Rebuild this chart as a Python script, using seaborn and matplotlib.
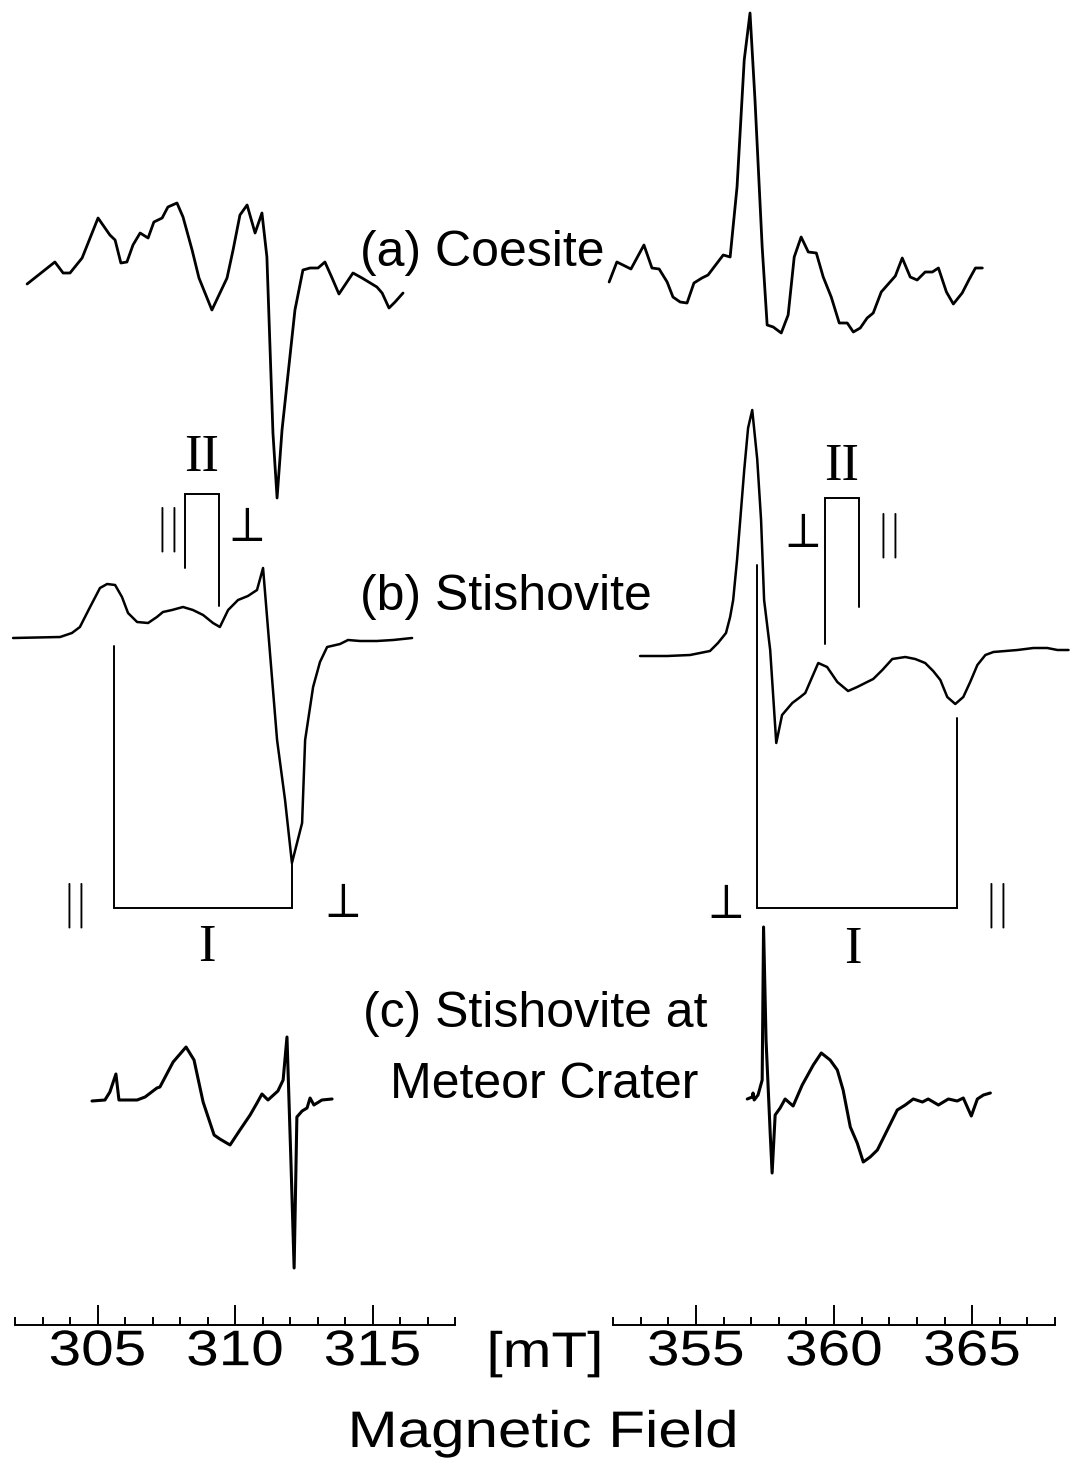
import numpy as np
import pandas as pd
import matplotlib
matplotlib.use("Agg")
import matplotlib.pyplot as plt
import seaborn as sns
from matplotlib.patheffects import AbstractPathEffect
from matplotlib.transforms import Affine2D

sns.set_theme(style="ticks")
plt.rcParams["font.family"] = ["Liberation Sans", "DejaVu Sans"]
plt.rcParams["text.color"] = "black"
plt.rcParams["xtick.color"] = "black"
plt.rcParams["xtick.labelcolor"] = "black"

# ---------------- data (field in mT, signal in arbitrary units) ----------------
coesite_left_field = [302.44, 303.45, 303.75, 304.0, 304.44, 305.02, 305.45, 305.64, 305.85, 306.07,
                      306.29, 306.55, 306.84, 307.05, 307.35, 307.56, 307.89, 308.11, 308.44, 308.69,
                      309.16, 309.71, 309.93, 310.18, 310.44, 310.73, 310.98, 311.16, 311.38, 311.53,
                      311.71, 312.18, 312.47, 312.73, 313.02, 313.27, 313.53, 313.78, 314.29, 314.62,
                      315.16, 315.35, 315.6, 315.82, 316.11]
coesite_left_signal = [-14, 8, -3, -3, 12, 52, 35, 30, 7, 8,
                       25, 37, 32, 48, 52, 63, 67, 53, 20, -8,
                       -40, -8, 20, 55, 65, 37, 57, 13, -163, -228,
                       -160, -40, 0, 2, 2, 8, -8, -24, -3, -8,
                       -17, -23, -38, -32, -23]

coesite_right_field = [351.86, 352.14, 352.36, 352.65, 353.12, 353.41, 353.67, 353.96, 354.17, 354.43,
                       354.68, 354.93, 355.22, 355.44, 355.77, 355.99, 356.24, 356.49, 356.75, 356.96,
                       357.14, 357.4, 357.58, 357.8, 358.09, 358.34, 358.56, 358.81, 359.07, 359.36,
                       359.61, 359.9, 360.19, 360.48, 360.7, 360.95, 361.2, 361.42, 361.71, 362.22,
                       362.47, 362.76, 363.01, 363.3, 363.56, 363.78, 364.07, 364.32, 364.64, 364.9,
                       365.12, 365.37]
coesite_right_signal = [-12, 8, 5, 1, 25, 2, 1, -12, -27, -32,
                        -33, -13, -8, -5, 7, 15, 13, 83, 210, 257,
                        170, 23, -55, -57, -63, -45, 13, 33, 18, 17,
                        -7, -27, -53, -53, -62, -58, -48, -43, -22, -6,
                        12, -7, -10, -2, -2, 2, -22, -34, -23, -9,
                        2, 2]

stish_left_field = [301.93, 303.64, 304.07, 304.36, 304.73, 305.09, 305.35, 305.64, 305.89, 306.11,
                    306.44, 306.84, 307.16, 307.38, 307.71, 308.11, 308.47, 308.84, 309.2, 309.45,
                    309.75, 310.11, 310.47, 310.8, 311.02, 311.53, 311.82, 312.07, 312.44, 312.55,
                    312.84, 313.09, 313.35, 313.82, 314.11, 314.55, 315.16, 315.75, 316.44]
stish_left_signal = [0, 1, 5, 11, 31, 50, 54, 53, 41, 25,
                     16, 15, 21, 26, 28, 31, 28, 23, 15, 11,
                     28, 38, 42, 48, 70, -102, -162, -225, -185, -102,
                     -49, -24, -9, -6, -2, -3, -3, -2, 0]

stish_right_field = [352.98, 353.96, 354.79, 355.15, 355.51, 355.80, 356.09, 356.24, 356.35, 356.49,
                     356.60, 356.75, 356.89, 357.04, 357.22, 357.36, 357.47, 357.69, 357.91, 358.12,
                     358.49, 358.78, 358.96, 359.21, 359.43, 359.75, 360.12, 360.51, 360.84, 361.20,
                     361.42, 361.75, 362.11, 362.58, 362.94, 363.30, 363.59, 363.85, 364.10, 364.39,
                     364.68, 364.93, 365.19, 365.48, 365.77, 366.64, 367.22, 367.72, 368.09, 368.49]
stish_right_signal = [0, 0, 1, 3, 5, 13, 23, 39, 56, 96,
                      134, 186, 228, 246, 197, 136, 56, 6, -87, -59,
                      -47, -41, -37, -21, -7, -11, -26, -35, -31, -26,
                      -23, -14, -3, -1, -3, -7, -15, -24, -41, -48,
                      -41, -26, -9, 1, 4, 6, 8, 8, 6, 6]

meteor_left_field = [304.8, 305.27, 305.45, 305.67, 305.78, 306.44, 306.73, 307.16, 307.27, 307.75,
                     308.22, 308.51, 308.84, 309.24, 309.45, 309.82, 310.18, 310.55, 310.8, 310.98,
                     311.2, 311.56, 311.75, 311.89, 312.04, 312.15, 312.25, 312.44, 312.62, 312.73,
                     312.87, 313.16, 313.53]
meteor_left_signal = [-1, 0, 8, 26, 0, 0, 3, 12, 13, 38,
                      53, 40, -2, -35, -39, -45, -30, -15, -3, 6,
                      0, 9, 20, 63, -67, -168, -17, -11, -8, 2,
                      -5, 0, 1]

meteor_right_field = [356.86, 357.04, 357.07, 357.11, 357.25, 357.40, 357.45, 357.54, 357.69, 357.76,
                      357.87, 358.05, 358.23, 358.52, 358.85, 359.25, 359.54, 359.86, 360.12, 360.33,
                      360.59, 360.84, 361.06, 361.31, 361.57, 361.93, 362.29, 362.58, 362.87, 363.20,
                      363.41, 363.78, 364.14, 364.46, 364.68, 364.97, 365.19, 365.41, 365.66]
meteor_right_signal = [1, 3, 7, 0, 5, 20, 173, 60, -33, -73,
                       -15, -8, 1, -6, 15, 35, 47, 40, 30, 10,
                       -27, -43, -62, -57, -50, -30, -10, -5, 1, -2,
                       1, -5, 1, -1, 2, -16, 1, 5, 7]

# g-component field positions (mT) of the stick diagrams
center_I_low = [305.6, 312.07]     # parallel, perpendicular
center_II_low = [308.18, 309.42]   # parallel, perpendicular
center_I_high = [357.22, 364.46]   # perpendicular, parallel
center_II_high = [359.68, 360.91]  # perpendicular, parallel

left_range = (302, 318)
right_range = (352, 368)
left_major = [305, 310, 315]
right_major = [355, 360, 365]

# ---------------- layout ----------------
W, H = 1081, 1464
SPINE = 1325
fig = plt.figure(figsize=(W / 100, H / 100), dpi=100)
fig.patch.set_facecolor("white")
axL = fig.add_axes([15 / W, (H - SPINE) / H, 440 / W, SPINE / H])
axR = fig.add_axes([613 / W, (H - SPINE) / H, 442 / W, SPINE / H])


def Y(py):
    return SPINE - py


class HStretch(AbstractPathEffect):
    def __init__(self, sx):
        super().__init__()
        self.sx = sx

    def draw_path(self, renderer, gc, tpath, affine, rgbFace=None):
        ext = tpath.get_extents()
        cx = 0.5 * (ext.x0 + ext.x1)
        t = Affine2D().translate(-cx, 0).scale(self.sx, 1.0).translate(cx, 0)
        renderer.draw_path(gc, tpath, t + affine, rgbFace)


def trace(ax, field, signal, base_py, lw=2.0):
    df = pd.DataFrame({"field": field, "y": np.asarray(signal, float) + Y(base_py)})
    sns.lineplot(data=df, x="field", y="y", ax=ax, color="black", linewidth=lw,
                 sort=False, estimator=None, clip_on=False)


def bracket(ax, xs, y_bar, y_ends, lw=1.4):
    ax.plot([xs[0], xs[0], xs[1], xs[1]],
            [Y(y_ends[0]), Y(y_bar), Y(y_bar), Y(y_ends[1])],
            color="black", lw=lw, clip_on=False, solid_joinstyle="miter")


def ftext(px, py, s, **kw):
    kw.setdefault("color", "black")
    return fig.text(px / W, 1 - py / H, s, **kw)


trace(axL, coesite_left_field, coesite_left_signal, 270)
trace(axR, coesite_right_field, coesite_right_signal, 270)
trace(axL, stish_left_field, stish_left_signal, 638, lw=1.8)
trace(axR, stish_right_field, stish_right_signal, 656, lw=1.8)
trace(axL, meteor_left_field, meteor_left_signal, 1100, lw=2.2)
trace(axR, meteor_right_field, meteor_right_signal, 1100, lw=2.2)

# stick diagrams
bracket(axL, center_I_low, 908, (646, 863))
bracket(axL, center_II_low, 494, (568, 606))
bracket(axR, center_I_high, 908, (565, 718))
bracket(axR, center_II_high, 498, (644, 607))

for ax, rng, majors in [(axL, left_range, left_major), (axR, right_range, right_major)]:
    ax.set_xlim(*rng)
    ax.set_ylim(0, SPINE)
    ax.set_xticks(majors)
    ax.set_xticks(np.arange(rng[0], rng[1] + 1), minor=True)
    ax.set_xticklabels([str(m) for m in majors])
    ax.set_yticks([])
    ax.set_xlabel("")
    ax.set_ylabel("")
    ax.patch.set_alpha(0)
    for s in ["left", "right", "top"]:
        ax.spines[s].set_visible(False)
    ax.spines["bottom"].set_linewidth(1.4)
    ax.spines["bottom"].set_color("black")
    ax.tick_params(axis="x", which="major", direction="in", length=14.5, width=1.4,
                   color="black", labelsize=36, pad=3, bottom=True, labelcolor="black")
    ax.tick_params(axis="x", which="minor", direction="in", length=6, width=1.4,
                   color="black", bottom=True)
    for lab in ax.get_xticklabels():
        lab.set_fontfamily(["Liberation Sans", "DejaVu Sans"])
        lab.set_color("black")
        lab.set_path_effects([HStretch(1.17)])

# axis title texts
ftext(545, 1367, "[mT]", fontsize=36, ha="center", va="baseline",
      path_effects=[HStretch(1.17)])
ftext(543, 1447, "Magnetic Field", fontsize=37, ha="center", va="baseline",
      path_effects=[HStretch(1.17)])

# panel labels
ftext(360, 266, "(a) Coesite", fontsize=36, ha="left", va="baseline")
ftext(360, 610, "(b) Stishovite", fontsize=36, ha="left", va="baseline")
ftext(363, 1027, "(c) Stishovite at", fontsize=36, ha="left", va="baseline")
ftext(390, 1098, "Meteor Crater", fontsize=36, ha="left", va="baseline")

# roman numerals
serif = ["Liberation Serif", "DejaVu Serif"]
ftext(202, 458, "II", fontsize=38, ha="center", va="center", family=serif)
ftext(842, 467, "II", fontsize=38, ha="center", va="center", family=serif)
ftext(207, 948, "I", fontsize=38, ha="center", va="center", family=serif)
ftext(853, 950, "I", fontsize=38, ha="center", va="center", family=serif)


# parallel / perpendicular symbols
def par(px, py):
    ftext(px, py, r"$||$", fontsize=33, ha="center", va="center", math_fontfamily="cm")


def perp(px, py):
    ftext(px, py, r"$\perp$", fontsize=36, ha="center", va="center", math_fontfamily="cm")


par(73, 906)
perp(338, 904)
par(166, 530)
perp(242, 528)
perp(798, 534)
par(887, 535)
perp(721, 905)
par(995, 905)

fig.savefig("out.png", dpi=100, facecolor="white")
